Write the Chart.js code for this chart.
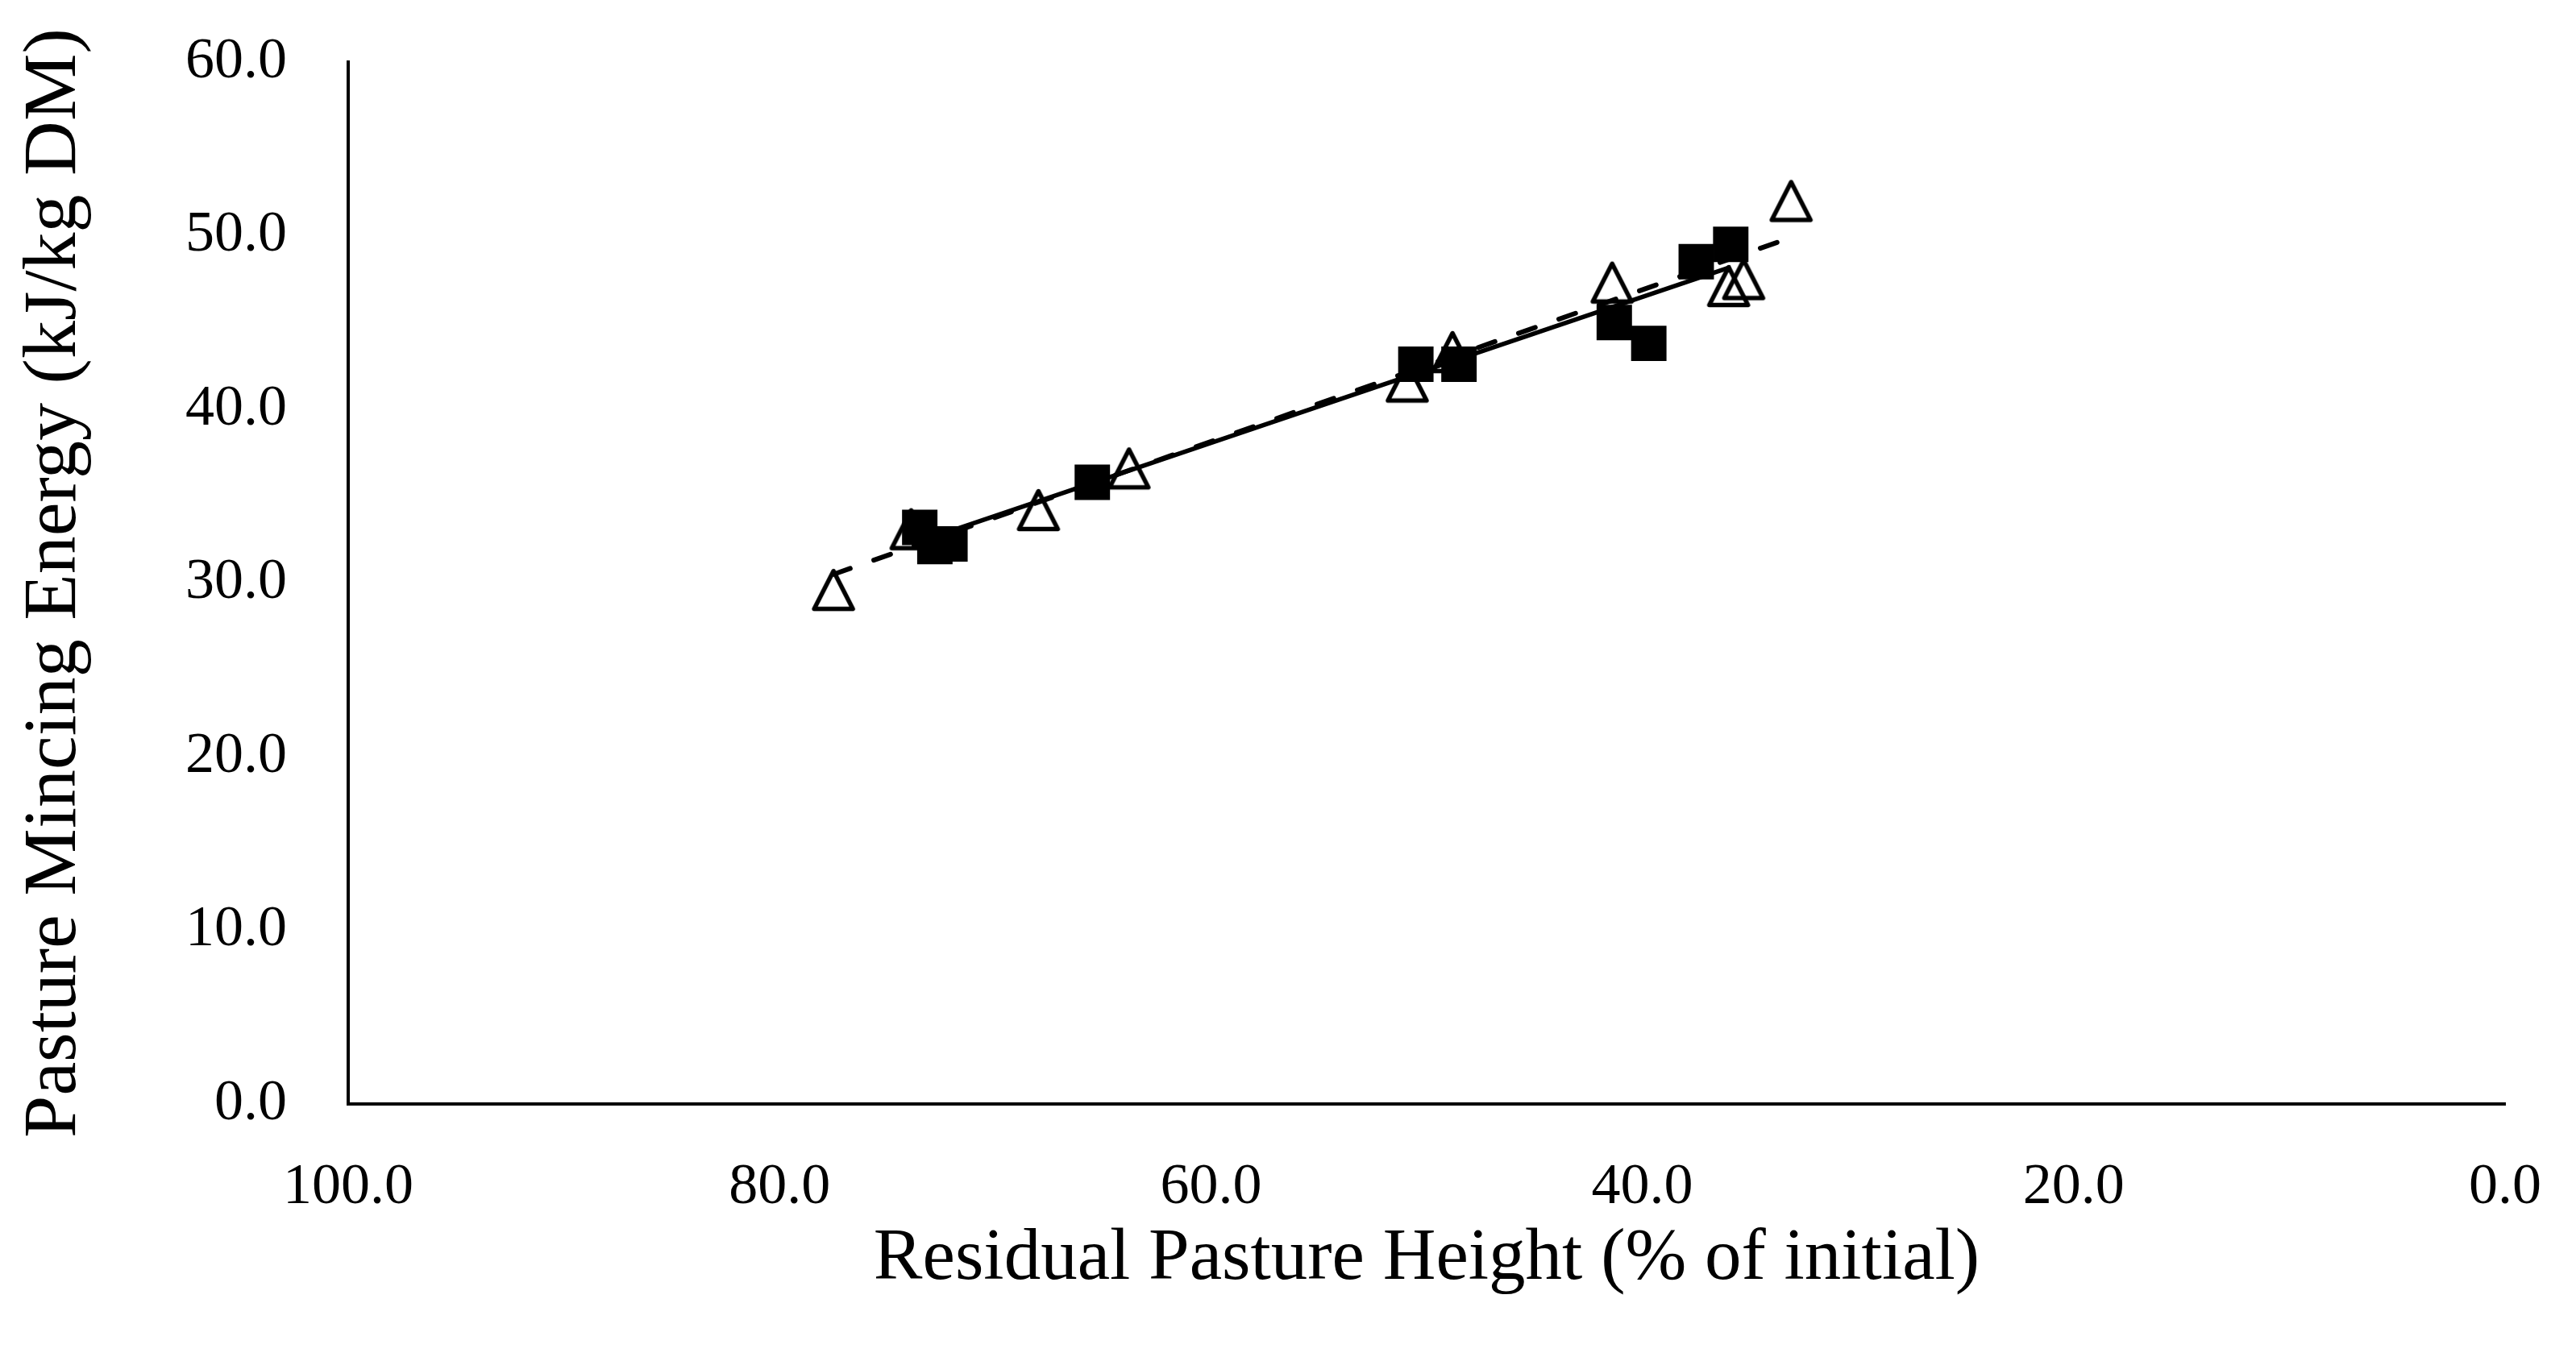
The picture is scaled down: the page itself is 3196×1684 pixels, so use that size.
<!DOCTYPE html>
<html>
<head>
<meta charset="utf-8">
<script src="https://cdn.jsdelivr.net/npm/chart.js@4.4.1/dist/chart.umd.min.js"></script>
<style>
  html, body { margin: 0; padding: 0; background: #fff; }
</style>
</head>
<body>
<canvas id="energyChart" width="3196" height="1684"></canvas>
<script>
// filled squares and open triangles
const squareX = [73.5, 72.8, 72.1, 65.5, 50.5, 48.5, 41.3, 39.7, 37.5, 35.9];
const squareY = [33.2, 32.1, 32.25, 35.8, 42.6, 42.6, 45.0, 43.8, 48.5, 49.5];
const triangleX = [77.5, 73.9, 68.0, 63.8, 50.9, 48.8, 41.4, 36.0, 35.3, 33.1];
const triangleY = [29.6, 33.1, 34.2, 36.6, 41.6, 43.3, 47.3, 47.1, 47.5, 52.0];

// trend line end points
const solidTrendX = [73.5, 35.9];
const solidTrendY = [32.4, 48.2];
const dashedTrendX = [77.5, 33.1];
const dashedTrendY = [30.5, 49.9];

const xTicks = [100, 80, 60, 40, 20, 0];
const yTicks = [0, 10, 20, 30, 40, 50, 60];

const pts = (xs, ys) => xs.map((x, i) => ({ x: x, y: ys[i] }));

// open triangle marker
const tri = document.createElement('canvas');
tri.width = 62;
tri.height = 62;
const t = tri.getContext('2d');
t.lineWidth = 5.5;
t.lineJoin = 'round';
t.strokeStyle = '#000';
t.beginPath();
t.moveTo(31, 7.5);
t.lineTo(55, 54.5);
t.lineTo(7, 54.5);
t.closePath();
t.stroke();

Chart.defaults.font.family = "'Liberation Serif', serif";
Chart.defaults.color = '#000';

const ctx = document.getElementById('energyChart').getContext('2d');
new Chart(ctx, {
  type: 'scatter',
  data: {
    datasets: [
      {
        label: 'Trend (squares)',
        data: pts(solidTrendX, solidTrendY),
        showLine: true,
        borderColor: '#000',
        borderWidth: 5.5,
        pointRadius: 0
      },
      {
        label: 'Trend (triangles)',
        data: pts(dashedTrendX, dashedTrendY),
        showLine: true,
        borderColor: '#000',
        borderWidth: 6,
        borderDash: [22, 31],
        borderCapStyle: 'round',
        pointRadius: 0
      },
      {
        label: 'Squares',
        data: pts(squareX, squareY),
        pointStyle: 'rect',
        pointRadius: 30,
        pointBorderWidth: 1.5,
        backgroundColor: '#000',
        borderColor: '#000'
      },
      {
        label: 'Triangles',
        data: pts(triangleX, triangleY),
        pointStyle: tri
      }
    ]
  },
  options: {
    responsive: false,
    animation: false,
    layout: { padding: { top: 77, right: 88, left: 0, bottom: 0 } },
    plugins: { legend: { display: false }, tooltip: { enabled: false } },
    scales: {
      x: {
        type: 'linear',
        reverse: true,
        min: 0,
        max: 100,
        afterBuildTicks: s => { s.ticks = xTicks.map(v => ({ value: v })); },
        afterFit: s => {
          s.height = 314;
          s.paddingLeft = 0;
          s.paddingRight = 0;
        },
        grid: { display: false, drawTicks: false },
        border: { color: '#000', width: 4 },
        ticks: {
          padding: 61,
          font: { size: 72 },
          callback: v => v.toFixed(1)
        },
        title: {
          display: true,
          text: 'Residual Pasture Height (% of initial)',
          font: { size: 91 },
          padding: { top: 0, bottom: 66 }
        }
      },
      y: {
        min: 0,
        max: 60,
        afterBuildTicks: s => { s.ticks = yTicks.map(v => ({ value: v })); },
        afterFit: s => {
          s.width = 432;
          s.paddingTop = 0;
          s.paddingBottom = 0;
        },
        grid: { display: false, drawTicks: false },
        border: { color: '#000', width: 4 },
        ticks: {
          padding: 76,
          font: { size: 72 },
          callback: v => v.toFixed(1)
        },
        title: {
          display: true,
          text: 'Pasture Mincing Energy (kJ/kg DM)',
          font: { size: 94 },
          padding: { top: 12, bottom: 0 }
        }
      }
    }
  }
});
</script>
</body>
</html>
